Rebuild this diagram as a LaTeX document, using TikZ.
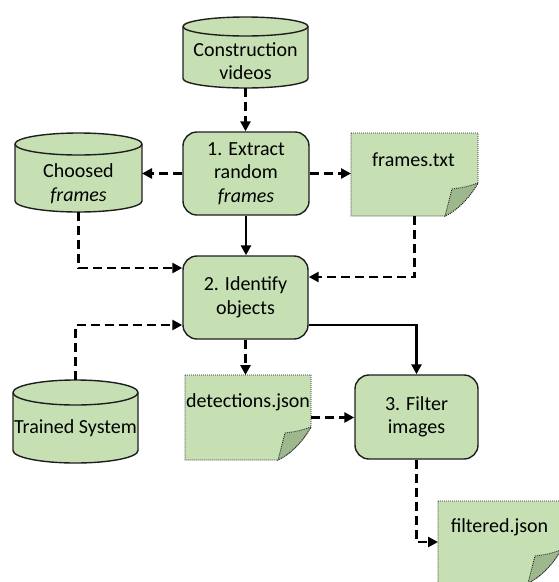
\documentclass[tikz,border=0pt]{standalone}
\usepackage{fontspec}
\setmainfont{Carlito}
\usetikzlibrary{arrows.meta,calc}
\definecolor{gfill}{RGB}{198,224,180}
\definecolor{gflap}{RGB}{158,184,142}
\definecolor{edge}{RGB}{30,30,30}
\begin{document}
\begin{tikzpicture}[x=1pt,y=1pt,
  lbl/.style={font=\fontsize{20}{23.5}\selectfont, align=center, text=black, inner sep=0pt},
  proc/.style={lbl, draw=edge, line width=1.4pt, fill=gfill, rounded corners=14pt},
  holder/.style={inner sep=0pt, outer sep=0pt},
  cylbody/.style={draw=edge, line width=1.4pt, fill=gfill},
  cylrim/.style={draw=edge, line width=1.4pt},
  notebody/.style={draw=edge, line width=0.9pt, dash pattern=on 0.9pt off 1.1pt, fill=gfill},
  noteflap/.style={notebody, fill=gflap},
  dflow/.style={line width=2.6pt, dash pattern=on 9pt off 5pt, -{Triangle[length=10pt,width=10pt]}},
  sflow/.style={line width=2.6pt, -{Triangle[length=10pt,width=10pt]}},
]
\useasboundingbox (0,0) rectangle (558,-582);

% placeholders for cylinders and notes
\node[holder, minimum width=125pt, minimum height=71pt] (cv) at (245.5,-52.5) {};
\node[holder, minimum width=127pt, minimum height=79pt] (cf) at (78.5,-172.5) {};
\node[holder, minimum width=125pt, minimum height=83pt] (ts) at (75.5,-421.5) {};
\node[holder, minimum width=127pt, minimum height=83pt] (ft) at (414.5,-174.5) {};
\node[holder, minimum width=126pt, minimum height=85pt] (dj) at (248,-417.5) {};
\node[holder, minimum width=123pt, minimum height=82pt] (fj) at (499.5,-542) {};

% cylinders
\foreach \n/\ry/\rx in {cv/9.5/62.5, cf/11/63.5, ts/12.5/62.5}{
  \draw[cylbody] ($(\n.north west)+(0,-\ry)$) -- ($(\n.south west)+(0,\ry)$)
    arc[start angle=180,end angle=360,x radius=\rx,y radius=\ry]
    -- ($(\n.north east)+(0,-\ry)$)
    arc[start angle=0,end angle=180,x radius=\rx,y radius=\ry] -- cycle;
  \draw[cylrim] ($(\n.north west)+(0,-\ry)$)
    arc[start angle=180,end angle=360,x radius=\rx,y radius=\ry];
}

% notes with folded corner
\foreach \n in {ft,dj,fj}{
  \draw[notebody] (\n.north west) -- (\n.north east) -- ($(\n.south east)+(0,33)$)
    .. controls ($(\n.south east)+(-8,19)$) and ($(\n.south east)+(-20,6)$) .. ($(\n.south east)+(-33,0)$)
    -- (\n.south west) -- cycle;
  \draw[noteflap] ($(\n.south east)+(0,33)$)
    .. controls ($(\n.south east)+(-12,29)$) .. ($(\n.south east)+(-26,27)$)
    -- ($(\n.south east)+(-33,0)$)
    .. controls ($(\n.south east)+(-20,6)$) and ($(\n.south east)+(-8,19)$) .. cycle;
}

% process boxes
\node[proc, minimum width=126pt, minimum height=83pt] (b1) at (246,-173.5) {1. Extract\\random\\\textit{frames}};
\node[proc, minimum width=125pt, minimum height=83pt] (b2) at (245.5,-297.5) {2. Identify\\objects};
\node[proc, minimum width=123pt, minimum height=84pt] (b3) at (416.5,-417) {3. Filter\\images};

% labels of cylinders and notes
\node[lbl] (cvt) at ($(cv.center)+(0,-8.5)$) {Construction\\videos};
\node[lbl] (cft) at ($(cf.center)+(0,-11)$) {Choosed\\\textit{frames}};
\node[lbl] (tst) at ($(ts.center)+(0,-6.5)$) {Trained System};
\node[lbl] (ftt) at ($(ft.north)+(-1,-27)$) {frames.txt};
\node[lbl] (djt) at ($(dj.north)+(0,-27)$) {detections.json};
\node[lbl] (fjt) at ($(fj.north)+(0,-26)$) {filtered.json};

% connectors
\draw[dflow] (cv.south) -- (cv.south |- b1.north);
\draw[dflow] (b1.west) -- (b1.west -| cf.east);
\draw[dflow] (b1.east) -- (b1.east -| ft.west);
\draw[sflow] (b1.south) -- (b1.south |- b2.north);
\draw[dflow] (cf.south) |- ([yshift=29.5pt]b2.west);
\draw[dflow] (ft.south) |- ([yshift=20.5pt]b2.east);
\draw[dflow] (ts.north) |- ([yshift=-27.5pt]b2.west);
\draw[dflow] (b2.south) -- (b2.south |- dj.north);
\draw[sflow] ([yshift=-27.5pt]b2.east) -| (b3.north);
\draw[dflow] (dj.east) -- (dj.east -| b3.west);
\draw[dflow] (b3.south) |- (fj.west);
\end{tikzpicture}
\end{document}
